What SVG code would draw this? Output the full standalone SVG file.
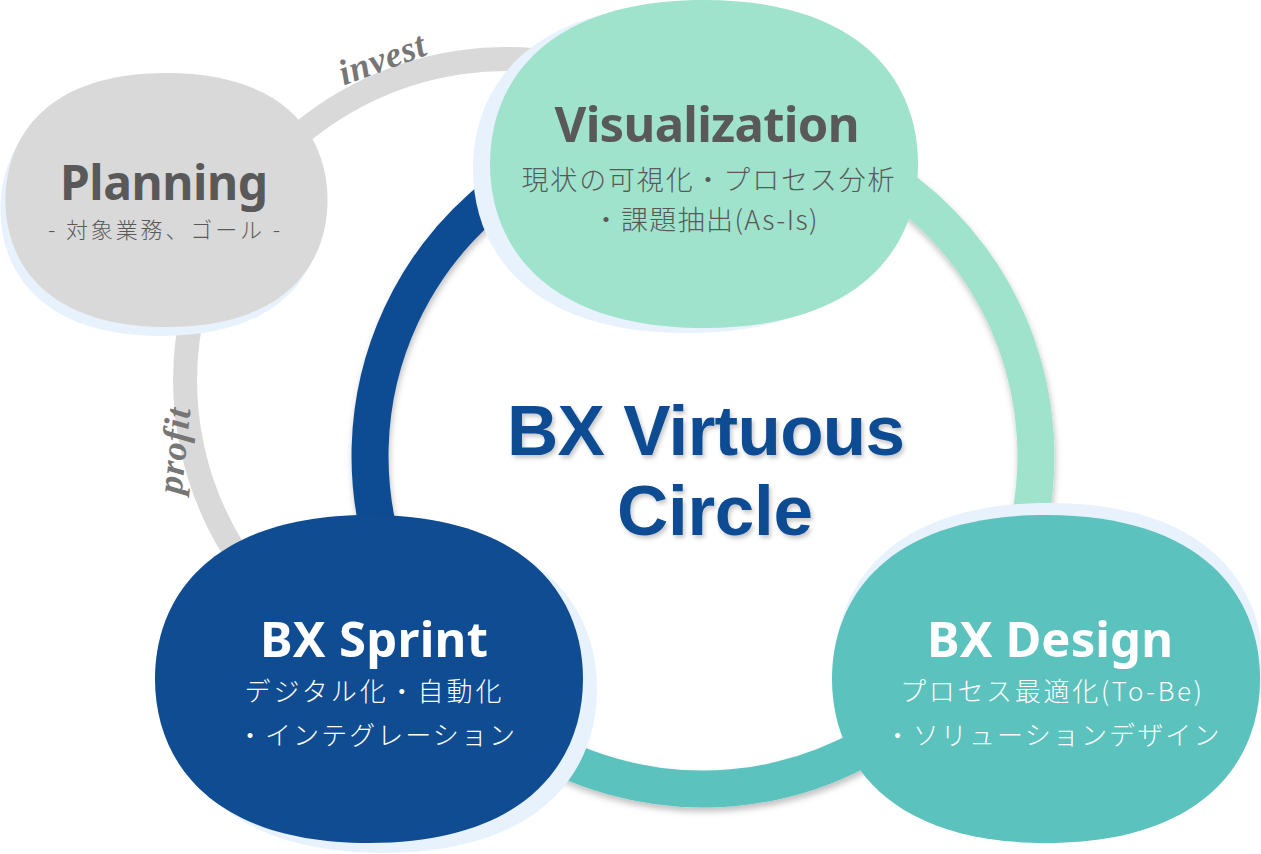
<svg xmlns="http://www.w3.org/2000/svg" width="1261" height="854" viewBox="0 0 1261 854">
<defs>
<style>
.t{font-family:"Noto Sans","Noto Sans CJK JP",sans-serif;font-weight:700;text-anchor:middle}
.c{font-family:"Liberation Sans",Arial,sans-serif;font-weight:700;text-anchor:middle;font-size:71px;fill:#0F4C92}
.s{font-family:"Noto Sans CJK JP","Noto Sans",sans-serif;font-weight:300;text-anchor:middle}
.g{fill:#595959}
.w{fill:#ffffff}
.lbl{font-family:"Liberation Serif",serif;font-style:italic;font-weight:700;font-size:36px;fill:#767676;text-anchor:middle}
.ring{fill:none;stroke-width:37}
.sh{fill:#E8F2FD}
</style>
<path id="blob" d="M0,-164 C156,-164 214,-84 214,0 C214,84 156,164 0,164 C-156,164 -214,84 -214,0 C-214,-84 -156,-164 0,-164Z"/>
<path id="blobP" d="M0,-127 C118,-127 161,-65 161,0 C161,65 118,127 0,127 C-118,127 -161,65 -161,0 C-161,-65 -118,-127 0,-127Z"/>
<filter id="ds" x="-10%" y="-10%" width="120%" height="130%"><feDropShadow dx="1" dy="4" stdDeviation="3" flood-color="#000" flood-opacity="0.25"/></filter>
<filter id="ts" x="-10%" y="-10%" width="120%" height="130%"><feDropShadow dx="2" dy="3" stdDeviation="2" flood-color="#000" flood-opacity="0.22"/></filter>
</defs>
<rect width="1261" height="854" fill="#ffffff"/>
<g id="connectors">
  <path d="M561.7,63.9 A321,321 0 0 0 299.7,625.9" stroke="#D9D9D9" stroke-width="24" fill="none"/>
  <g filter="url(#ds)">
    <path class="ring" d="M589.1,143.1 A333,333 0 0 0 390.1,569.9" stroke="#0F4C92"/>
    <path class="ring" d="M760.8,128.1 A333,333 0 0 1 958.1,670" stroke="#A0E3CC"/>
    <path class="ring" d="M938.5,691.5 A333,333 0 0 1 512,728.8" stroke="#5BC2BE"/>
  </g>
  <text class="lbl" transform="translate(386,70) rotate(-20)" textLength="90">invest</text>
  <text class="lbl" transform="translate(186,452) rotate(-84)" textLength="86">profit</text>
</g>
<g id="planning">
  <use href="#blobP" class="sh" transform="translate(161.5,209)"/>
  <use href="#blobP" fill="#D9D9D9" transform="translate(166.5,200)"/>
  <text class="t g" x="164" y="200" font-size="48" textLength="208">Planning</text>
  <text class="s g" x="164" y="238" font-size="22" textLength="232">- 対象業務、ゴール -</text>
</g>
<g id="visualization">
  <use href="#blob" class="sh" transform="translate(687,169)"/>
  <use href="#blob" fill="#A0E3CC" transform="translate(704,164)"/>
  <text class="t g" x="707" y="142" font-size="49" textLength="305">Visualization</text>
  <text class="s g" x="708" y="190" font-size="27" textLength="373">現状の可視化・プロセス分析</text>
  <text class="s g" x="705" y="230" font-size="27" textLength="225">・課題抽出(As-Is)</text>
</g>
<g id="bxdesign">
  <use href="#blob" class="sh" transform="translate(1049,667)"/>
  <use href="#blob" fill="#5BC2BE" transform="translate(1046,679)"/>
  <text class="t w" x="1050" y="657" font-size="49" textLength="246">BX Design</text>
  <text class="s w" x="1051" y="701" font-size="26" textLength="302">プロセス最適化(To-Be)</text>
  <text class="s w" x="1052" y="745" font-size="26" textLength="335">・ソリューションデザイン</text>
</g>
<g id="bxsprint">
  <use href="#blob" class="sh" transform="translate(383,689)"/>
  <use href="#blob" fill="#0F4C92" transform="translate(369,679)"/>
  <text class="t w" x="374" y="657" font-size="49" textLength="228">BX Sprint</text>
  <text class="s w" x="373" y="701" font-size="26" textLength="257">デジタル化・自動化</text>
  <text class="s w" x="376" y="745" font-size="26" textLength="278">・インテグレーション</text>
</g>
<g id="center" filter="url(#ts)">
  <text class="c" x="706" y="455" textLength="398">BX Virtuous</text>
  <text class="c" x="715" y="535" textLength="196">Circle</text>
</g>
</svg>
